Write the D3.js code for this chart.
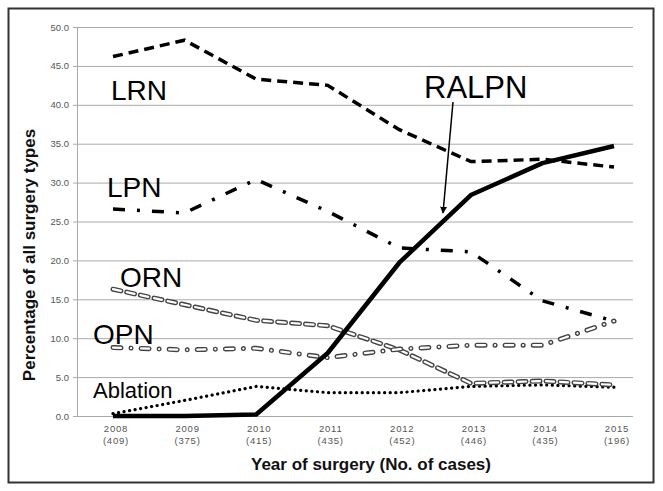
<!DOCTYPE html>
<html><head><meta charset="utf-8">
<script src="https://cdn.jsdelivr.net/npm/d3@7"></script>
<style>body{margin:0;background:#fff;} svg text{font-family:"Liberation Sans",Arial,sans-serif;}</style>
</head><body>
<svg id="c" width="663" height="491"></svg>
<script>
const years = ["2008","2009","2010","2011","2012","2013","2014","2015"];
const cases = ["(409)","(375)","(415)","(435)","(452)","(446)","(435)","(196)"];
const yTicks = [0,5,10,15,20,25,30,35,40,45,50];
const LRN = [46.2,48.3,43.3,42.5,36.8,32.7,33.0,32.0];
const LPN = [26.6,26.1,30.4,26.3,21.6,21.1,14.8,12.2];
const RALPN = [0.0,0.0,0.2,8.1,19.7,28.4,32.5,34.7];
const ORN = [16.3,14.3,12.3,11.6,8.5,4.2,4.5,4.0];
const OPN = [8.8,8.5,8.7,7.5,8.6,9.1,9.1,12.2];
const Ablation = [0.3,2.0,3.8,3.0,3.0,3.8,4.0,3.7];

const svg = d3.select("#c");
svg.append("rect").attr("x",8.5).attr("y",8.5).attr("width",645).attr("height",474)
  .attr("fill","#fff").attr("stroke","#333").attr("stroke-width",2);

const x = d3.scalePoint().domain(years).range([113,614]);
const y = d3.scaleLinear().domain([0,50]).range([416,27]);
const gx0 = 77, gx1 = 633;

// gridlines
svg.append("g").selectAll("line").data(yTicks).join("line")
  .attr("x1",gx0-4).attr("x2",gx1).attr("y1",d=>y(d)+0.5).attr("y2",d=>y(d)+0.5)
  .attr("stroke","#aaa").attr("stroke-width",1);
svg.append("line").attr("x1",gx0+0.5).attr("x2",gx0+0.5).attr("y1",y(50)).attr("y2",y(0))
  .attr("stroke","#aaa");

// y tick labels
svg.append("g").selectAll("text").data(yTicks).join("text")
  .attr("x",69).attr("y",d=>y(d)+3.5).attr("text-anchor","end")
  .attr("font-size",9.5).attr("fill","#555").text(d=>d.toFixed(1));

// x tick labels
const xl = svg.append("g").selectAll("g").data(years).join("g");
xl.append("text").attr("x",(d)=>x(d)+3).attr("y",432).attr("text-anchor","middle")
  .attr("font-size",9.5).attr("fill","#555").attr("letter-spacing",0.8).text(d=>d);
xl.append("text").attr("x",(d)=>x(d)+3).attr("y",444).attr("text-anchor","middle")
  .attr("font-size",9.5).attr("fill","#555").attr("letter-spacing",0.8).text((d,i)=>cases[i]);

// axis titles
svg.append("text").attr("x",371).attr("y",470).attr("text-anchor","middle")
  .attr("font-size",17).attr("font-weight","bold").attr("fill","#111")
  .text("Year of surgery (No. of cases)");
svg.append("text").attr("transform","translate(35,255) rotate(-90)").attr("text-anchor","middle")
  .attr("font-size",17).attr("font-weight","bold").attr("fill","#111")
  .text("Percentage of all surgery types");

const line = d3.line().x((d,i)=>x(years[i])).y(d=>y(d));
function draw(data, attrs){
  const p = svg.append("path").datum(data).attr("d",line).attr("fill","none");
  for (const k in attrs) p.attr(k, attrs[k]);
  return p;
}
// Ablation dotted
draw(Ablation,{stroke:"#000","stroke-width":3.2,"stroke-dasharray":"0.1 5.5","stroke-linecap":"round"});
// ORN double dashed
draw(ORN,{stroke:"#444","stroke-width":5,"stroke-dasharray":"8 6","stroke-linecap":"round"});
draw(ORN,{stroke:"#fff","stroke-width":2.2,"stroke-dasharray":"8 6","stroke-linecap":"round"});
// OPN double dash-dot
draw(OPN,{stroke:"#444","stroke-width":5,"stroke-dasharray":"8 10 0.1 10","stroke-linecap":"round"});
draw(OPN,{stroke:"#fff","stroke-width":2.2,"stroke-dasharray":"8 10 0.1 10","stroke-linecap":"round"});
// LRN dashed
draw(LRN,{stroke:"#000","stroke-width":3.5,"stroke-dasharray":"10 6"});
// LPN dash-dot
draw(LPN,{stroke:"#000","stroke-width":3.5,"stroke-dasharray":"12 12 3 12"});
// RALPN solid
draw(RALPN,{stroke:"#000","stroke-width":4.5,"stroke-linejoin":"round"});

// labels
const lab = (t,xx,yy,fs)=>svg.append("text").attr("x",xx).attr("y",yy).attr("font-size",fs).attr("fill","#000").text(t);
lab("LRN",111,100,28);
lab("LPN",107,197,28);
lab("ORN",120,287,28);
lab("OPN",93,344,28);
lab("Ablation",93,398,22);
lab("RALPN",424,98,31);

// arrow
svg.append("defs").append("marker").attr("id","ah").attr("viewBox","0 0 10 10")
  .attr("refX",9).attr("refY",5).attr("markerWidth",7).attr("markerHeight",9)
  .attr("orient","auto").attr("markerUnits","userSpaceOnUse")
  .append("path").attr("d","M0,0 L10,5 L0,10 Z").attr("fill","#000");
svg.append("line").attr("x1",453).attr("y1",102).attr("x2",443).attr("y2",213)
  .attr("stroke","#000").attr("stroke-width",1.5).attr("marker-end","url(#ah)");
</script>
</body></html>
